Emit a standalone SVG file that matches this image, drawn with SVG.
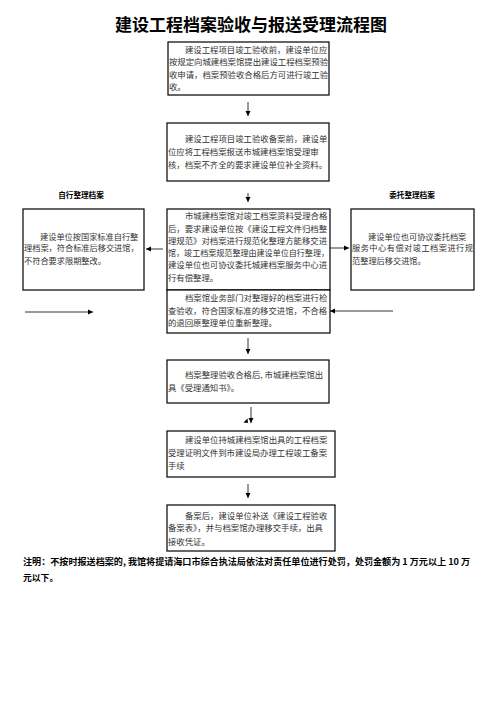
<svg xmlns="http://www.w3.org/2000/svg" width="496" height="702" viewBox="0 0 496 702">
<defs>
<marker id="ah" markerWidth="6" markerHeight="6" refX="5" refY="3" orient="auto" markerUnits="userSpaceOnUse">
<path d="M0,0.5 L5,3 L0,5.5 Z" fill="#000"/>
</marker>
</defs>
<style>
.box{fill:#fff;stroke:#000;stroke-width:1.2}
.t{font-family:"Noto Sans CJK SC","Noto Sans CJK JP",sans-serif;font-size:8.4px;fill:#333}
.ts{font-family:"Noto Sans CJK SC","Noto Sans CJK JP",sans-serif;font-size:8.2px;fill:#333}
.lbl{font-family:"Noto Sans CJK SC",sans-serif;font-size:7.6px;font-weight:bold;fill:#000}
.title{font-family:"Noto Sans CJK SC",sans-serif;font-size:17px;font-weight:bold;fill:#000}
.note{font-family:"Noto Sans CJK SC",sans-serif;font-size:8.8px;font-weight:bold;fill:#000}
.c{stroke:#000;stroke-width:0.8;fill:none;marker-end:url(#ah)}
</style>
<rect width="496" height="702" fill="#fff"/>
<text class="title" x="251" y="31" text-anchor="middle">建设工程档案验收与报送受理流程图</text>
<text class="lbl" x="81" y="198" text-anchor="middle">自行整理档案</text>
<text class="lbl" x="412" y="198" text-anchor="middle">委托整理档案</text>

<g id="n1">
<rect class="box" x="168" y="42" width="161" height="53"/>
<text class="t" x="185" y="52.5">建设工程项目竣工验收前，建设单位应</text>
<text class="t" x="169" y="65">按规定向城建档案馆提出建设工程档案预验</text>
<text class="t" x="169" y="77.5">收申请，档案预验收合格后方可进行竣工验</text>
<text class="t" x="169" y="90">收。</text>
</g>
<g id="n2">
<rect class="box" x="167" y="123" width="162" height="58"/>
<text class="t" x="185" y="141.5">建设工程项目竣工验收备案前，建设单</text>
<text class="t" x="168" y="155">位应将工程档案报送市城建档案馆受理审</text>
<text class="t" x="168" y="168">核，档案不齐全的要求建设单位补全资料。</text>
</g>
<g id="n3">
<rect class="box" x="167" y="209" width="163" height="81"/>
<text class="t" x="185" y="219">市城建档案馆对竣工档案资料受理合格</text>
<text class="t" x="168" y="231.5">后，要求建设单位按《建设工程文件归档整</text>
<text class="t" x="168" y="243.8">理规范》对档案进行规范化整理方能移交进</text>
<text class="t" x="168" y="256" textLength="161" lengthAdjust="spacingAndGlyphs">馆，竣工档案规范整理由建设单位自行整理，</text>
<text class="t" x="168" y="268.2">建设单位也可协议委托城建档案服务中心进</text>
<text class="t" x="168" y="280.5">行有偿整理。</text>
</g>
<g id="n4">
<rect class="box" x="167" y="290" width="163" height="43"/>
<text class="t" x="185" y="301">档案馆业务部门对整理好的档案进行检</text>
<text class="t" x="168" y="313.5">查验收，符合国家标准的移交进馆，不合格</text>
<text class="t" x="168" y="326">的退回原整理单位重新整理。</text>
</g>
<g id="nL">
<rect class="box" x="23" y="209" width="121" height="81"/>
<text class="ts" x="40" y="239.7">建设单位按国家标准自行整</text>
<text class="ts" x="24" y="251.3">理档案，符合标准后移交进馆，</text>
<text class="ts" x="24" y="264">不符合要求限期整改。</text>
</g>
<g id="nR">
<rect class="box" x="351" y="209" width="123" height="81"/>
<text class="ts" x="368" y="239.7">建设单位也可协议委托档案</text>
<text class="ts" x="352" y="251.3" textLength="121" lengthAdjust="spacing">服务中心有偿对竣工档案进行规</text>
<text class="ts" x="352" y="264">范整理后移交进馆。</text>
</g>
<g id="n5">
<rect class="box" x="167" y="360" width="162" height="43"/>
<text class="t" x="185" y="378">档案整理验收合格后, 市城建档案馆出</text>
<text class="t" x="168" y="391.3">具《受理通知书》。</text>
</g>
<g id="n6">
<rect class="box" x="167" y="431" width="168" height="46"/>
<text class="t" x="185" y="443">建设单位持城建档案馆出具的工程档案</text>
<text class="t" x="168" y="456.3">受理证明文件到市建设局办理工程竣工备案</text>
<text class="t" x="168" y="469">手续</text>
</g>
<g id="n7">
<rect class="box" x="167" y="505" width="168" height="46"/>
<text class="t" x="185" y="518.7">备案后，建设单位补送《建设工程验收</text>
<text class="t" x="168" y="531.3">备案表》，并与档案馆办理移交手续，出具</text>
<text class="t" x="168" y="544.7">接收凭证。</text>
</g>

<g id="connectors">
<line class="c" x1="248" y1="102" x2="248" y2="116"/>
<line class="c" x1="248" y1="193" x2="248" y2="202"/>
<line class="c" x1="163" y1="249" x2="146" y2="249"/>
<line class="c" x1="330" y1="248" x2="349" y2="248"/>
<line class="c" x1="25" y1="312" x2="93" y2="312"/>
<line class="c" x1="393" y1="311" x2="330" y2="311"/>
<line class="c" x1="248" y1="338" x2="248" y2="354"/>
<line class="c" x1="251" y1="407" x2="251" y2="423"/>
<path d="M243.5,422.5 L247.5,418.5 L248,423 Z" fill="#000"/>
<line class="c" x1="248" y1="484" x2="248" y2="498"/>
</g>

<text class="note" x="23" y="565" textLength="447" lengthAdjust="spacingAndGlyphs">注明：不按时报送档案的, 我馆将提请海口市综合执法局依法对责任单位进行处罚，处罚金额为 1 万元以上 10 万</text>
<text class="note" x="23" y="581">元以下。</text>
</svg>
